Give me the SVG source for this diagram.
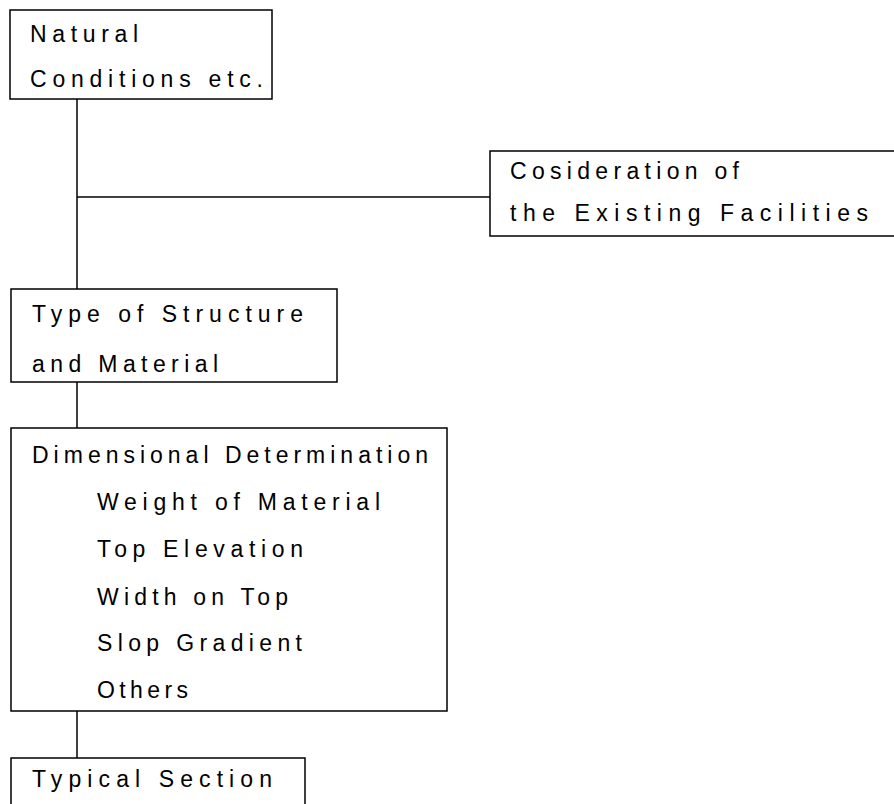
<svg xmlns="http://www.w3.org/2000/svg" width="894" height="804" viewBox="0 0 894 804">
<style>
.box{fill:none;stroke:#000;stroke-width:1.5}
.ln{stroke:#000;stroke-width:1.5;fill:none}
text{font-family:"Liberation Sans",Arial,sans-serif;font-size:23px;fill:#000}
</style>
<rect width="894" height="804" fill="#fff"/>
<g id="connectors">
<line class="ln" x1="77" y1="99" x2="77" y2="289"/>
<line class="ln" x1="77" y1="197" x2="490" y2="197"/>
<line class="ln" x1="77" y1="382" x2="77" y2="428"/>
<line class="ln" x1="77" y1="711" x2="77" y2="758"/>
</g>
<g id="natural">
<rect class="box" x="10" y="10" width="262" height="89"/>
<text x="30" y="42" textLength="108" lengthAdjust="spacing">Natural</text>
<text x="30" y="87" textLength="233" lengthAdjust="spacing">Conditions etc.</text>
</g>
<g id="consideration">
<rect class="box" x="490" y="151" width="420" height="85"/>
<text x="510" y="179" textLength="229" lengthAdjust="spacing">Cosideration of</text>
<text x="510" y="221" textLength="358" lengthAdjust="spacing">the Existing Facilities</text>
</g>
<g id="type">
<rect class="box" x="11" y="289" width="326" height="93"/>
<text x="32" y="322" textLength="271" lengthAdjust="spacing">Type of Structure</text>
<text x="32" y="372" textLength="186" lengthAdjust="spacing">and Material</text>
</g>
<g id="dimensional">
<rect class="box" x="11" y="428" width="436" height="283"/>
<text x="32" y="463" textLength="396" lengthAdjust="spacing">Dimensional Determination</text>
<text x="97" y="510" textLength="283" lengthAdjust="spacing">Weight of Material</text>
<text x="97" y="557" textLength="206" lengthAdjust="spacing">Top Elevation</text>
<text x="97" y="605" textLength="191" lengthAdjust="spacing">Width on Top</text>
<text x="97" y="651" textLength="205" lengthAdjust="spacing">Slop Gradient</text>
<text x="97" y="698" textLength="91" lengthAdjust="spacing">Others</text>
</g>
<g id="typical">
<rect class="box" x="11" y="758" width="294" height="60"/>
<text x="32" y="787" textLength="240" lengthAdjust="spacing">Typical Section</text>
</g>
</svg>
